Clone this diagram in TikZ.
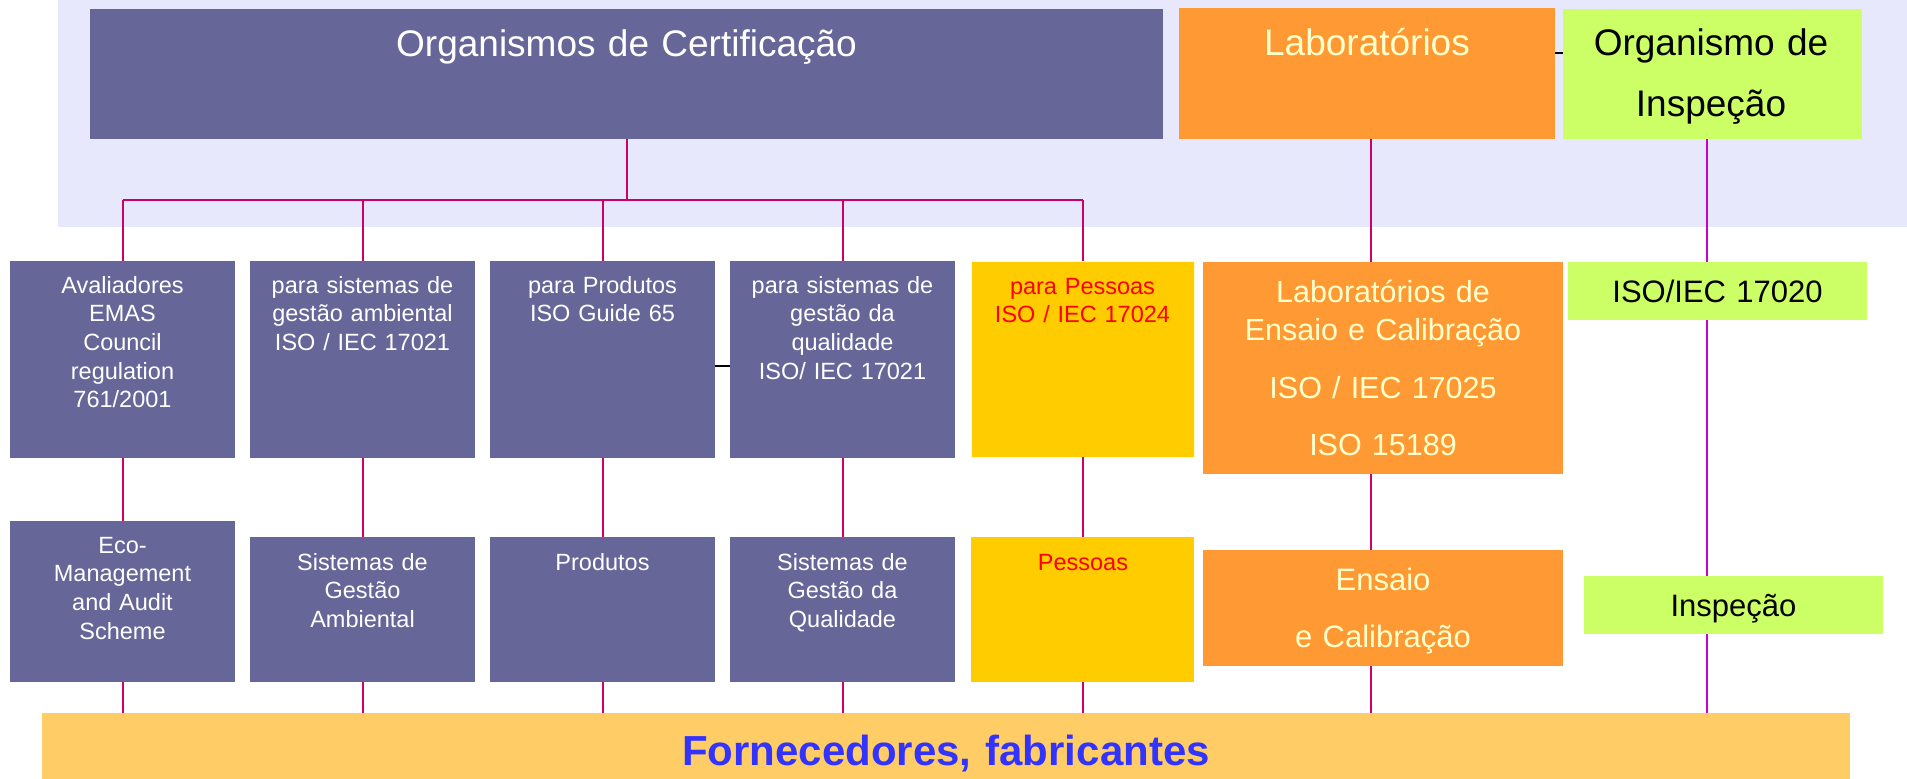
\documentclass[tikz,border=0pt]{standalone}
\usepackage{fontspec}
\setmainfont{Liberation Sans}
\usetikzlibrary{calc}
\definecolor{lav}{RGB}{232,232,252}
\definecolor{purp}{RGB}{102,102,153}
\definecolor{orng}{RGB}{255,153,51}
\definecolor{lime}{RGB}{204,255,102}
\definecolor{yel}{RGB}{255,204,0}
\definecolor{sand}{RGB}{255,204,102}
\definecolor{crim}{RGB}{204,0,102}
\definecolor{mag}{RGB}{204,0,204}
\definecolor{pale}{RGB}{255,255,204}
\definecolor{fblue}{RGB}{51,51,255}
\definecolor{fred}{RGB}{255,0,0}
\newcommand\myfs[2]{\fontsize{#1}{#2}\selectfont}
\begin{document}
\begin{tikzpicture}[x=1pt,y=-1pt,
  box/.style={rectangle, inner sep=0pt, outer sep=0pt, anchor=north west, draw=none},
  txt/.style={anchor=base, align=center, text width=#1, inner sep=0pt, outer sep=0pt},
  txt/.default=220pt,
  ptxt/.style={txt, text=white, font=\myfs{23.5}{28.6}},
  rtxt/.style={txt, text=fred, font=\myfs{23.5}{28.3}},
  conn/.style={draw=crim, line width=2pt},
  mconn/.style={draw=mag, line width=2pt},
  blk/.style={draw=black, line width=1.5pt}
]
\fill[white] (0,0) rectangle (1907,779);
\useasboundingbox (0,0) rectangle (1907,779);

% background panel
\node[box, fill=lav, minimum width=1849pt, minimum height=227pt] (panel) at (58,0) {};

% top row
\node[box, fill=purp, minimum width=1073pt, minimum height=130pt] (org) at (90,9) {};
\node[txt=1000pt, text=white, font=\myfs{37}{44}] (orgt) at (626.5,56) {Organismos de Certificação};
\node[box, fill=orng, minimum width=376pt, minimum height=131pt] (lab) at (1179,8) {};
\node[txt=360pt, text=pale, font=\myfs{37}{44}] (labt) at (1367,55) {Laboratórios};
\node[box, fill=lime, minimum width=299pt, minimum height=130pt] (insp) at (1563,9) {};
\node[txt=290pt, text=black, font=\myfs{37}{62}] (inspt) at (1711,55) {Organismo de\\Inspeção};

% row 2
\node[box, fill=purp, minimum width=225pt, minimum height=197pt] (b1) at (10,261) {};
\node[box, fill=purp, minimum width=225pt, minimum height=197pt] (b2) at (250,261) {};
\node[box, fill=purp, minimum width=225pt, minimum height=197pt] (b3) at (490,261) {};
\node[box, fill=purp, minimum width=225pt, minimum height=197pt] (b4) at (730,261) {};
\node[box, fill=yel, draw=pale, line width=1pt, minimum width=223pt, minimum height=196pt] (p5) at (971,261) {};
\node[box, fill=orng, minimum width=360pt, minimum height=212pt] (lab2) at (1203,262) {};
\node[box, fill=lime, minimum width=299pt, minimum height=58pt] (iso) at (1568,262) {};

\node[ptxt] (t1) at (122.5,293.3) {Avaliadores\\EMAS\\Council\\regulation\\761/2001};
\node[ptxt] (t2) at (362.5,293.3) {para sistemas de\\gestão ambiental\\ISO / IEC 17021};
\node[ptxt] (t3) at (602.5,293.3) {para Produtos\\ISO Guide 65};
\node[ptxt] (t4) at (842.5,293.3) {para sistemas de\\gestão da\\qualidade\\ISO/ IEC 17021};
\node[rtxt] (t5) at (1082.5,294.3) {para Pessoas\\ISO / IEC 17024};
\node[txt=350pt, text=pale, font=\myfs{30.5}{37.3}] (t6) at (1383,302.7) {Laboratórios de\\Ensaio e Calibração\\[21pt]ISO / IEC 17025\\[19.5pt]ISO 15189};
\node[txt=290pt, text=black, font=\myfs{31}{37}] (t7) at (1717.5,302.7) {ISO/IEC 17020};

% row 3
\node[box, fill=purp, minimum width=225pt, minimum height=161pt] (e1) at (10,521) {};
\node[box, fill=purp, minimum width=225pt, minimum height=145pt] (e2) at (250,537) {};
\node[box, fill=purp, minimum width=225pt, minimum height=145pt] (e3) at (490,537) {};
\node[box, fill=purp, minimum width=225pt, minimum height=145pt] (e4) at (730,537) {};
\node[box, fill=yel, minimum width=223pt, minimum height=145pt] (p6) at (971,537) {};
\node[box, fill=orng, minimum width=360pt, minimum height=116pt] (ens) at (1203,550) {};
\node[box, fill=lime, minimum width=299pt, minimum height=58pt] (inspb) at (1584,576) {};

\node[ptxt] (u1) at (122.5,553.3) {Eco-\\Management\\and Audit\\Scheme};
\node[ptxt] (u2) at (362.5,570) {Sistemas de\\Gestão\\Ambiental};
\node[ptxt] (u3) at (602.5,570) {Produtos};
\node[ptxt] (u4) at (842.5,570) {Sistemas de\\Gestão da\\Qualidade};
\node[rtxt] (u5) at (1083,570) {Pessoas};
\node[txt=350pt, text=pale, font=\myfs{31}{57.7}] (u6) at (1383,590) {Ensaio\\e Calibração};
\node[txt=290pt, text=black, font=\myfs{31}{37}] (u7) at (1733.5,616.7) {Inspeção};

% bottom bar
\node[box, fill=sand, minimum width=1808pt, minimum height=66pt] (forn) at (42,713) {};
\node[txt=1500pt, text=fblue, font=\myfs{42}{50}\bfseries] (fornt) at (946,765) {Fornecedores, fabricantes};

% connectors
\coordinate (bus) at (626.5,200);
\draw[conn] (org.south) -- (bus);
\draw[conn] (b1.north |- bus) -- (p5.north |- bus);
\foreach \n in {b1,b2,b3,b4,p5} \draw[conn] (\n.north |- bus) -- (\n.north);
\foreach \a/\b in {b1/e1,b2/e2,b3/e3,b4/e4,p5/p6} \draw[conn] (\a.south) -- (\b.north);
\foreach \a in {e1,e2,e3,e4,p6} \draw[conn] (\a.south) -- (\a.south |- forn.north);

\coordinate (lx) at (1370.5,0);
\draw[conn] (lab.south -| lx) -- (lab2.north -| lx);
\draw[conn] (lab2.south -| lx) -- (ens.north -| lx);
\draw[conn] (ens.south -| lx) -- (forn.north -| lx);

\coordinate (ix) at (1707,0);
\draw[mconn] (insp.south -| ix) -- (iso.north -| ix);
\draw[mconn] (iso.south -| ix) -- (inspb.north -| ix);
\draw[mconn] (inspb.south -| ix) -- (forn.north -| ix);

\coordinate (k1) at (0,53);
\draw[blk] (lab.east |- k1) -- (insp.west |- k1);
\coordinate (k2) at (0,366);
\draw[blk] (b3.east |- k2) -- (b4.west |- k2);
\end{tikzpicture}
\end{document}
